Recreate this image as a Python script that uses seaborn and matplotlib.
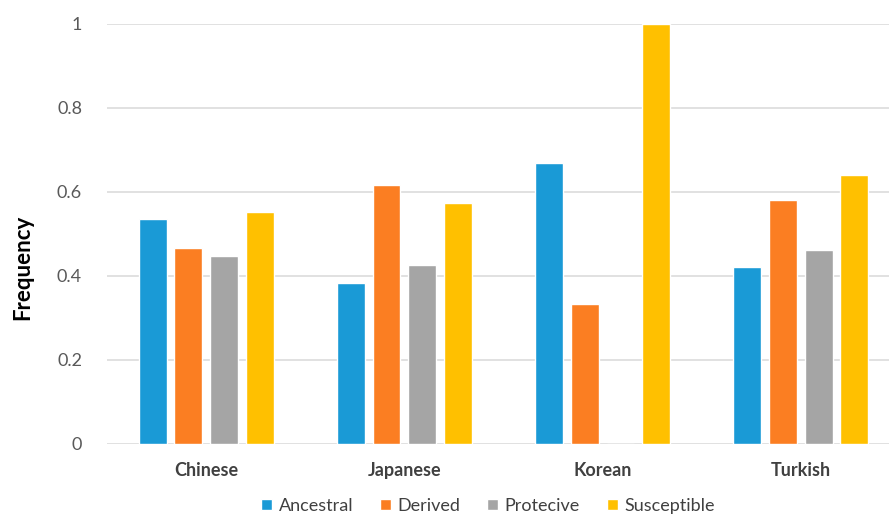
import matplotlib
matplotlib.use("Agg")
import matplotlib.pyplot as plt
import seaborn as sns
import pandas as pd

populations = ["Chinese", "Japanese", "Korean", "Turkish"]
allele_types = ["Ancestral", "Derived", "Protecive", "Susceptible"]
ancestral = [0.534, 0.382, 0.667, 0.420]
derived = [0.466, 0.615, 0.333, 0.580]
protective = [0.446, 0.426, 0.0, 0.461]
susceptible = [0.552, 0.572, 1.0, 0.640]
colors = ["#1A9AD6", "#FB7E22", "#A5A5A5", "#FFC000"]
yticks = [0, 0.2, 0.4, 0.6, 0.8, 1.0]
ytick_labels = ["0", "0.2", "0.4", "0.6", "0.8", "1"]

rows = []
for t, vals in zip(allele_types, [ancestral, derived, protective, susceptible]):
    for p, v in zip(populations, vals):
        rows.append({"Population": p, "Type": t, "Frequency": v})
df = pd.DataFrame(rows)

sns.set_theme(style="white")
plt.rcParams["font.family"] = ["Lato", "DejaVu Sans"]

fig = plt.figure(figsize=(8.89, 5.16), dpi=100)
ax = fig.add_axes([107/889, 1 - 443.5/516, (900-107)/889, (443.5-23.5)/516])

sns.barplot(data=df, x="Population", y="Frequency", hue="Type",
            hue_order=allele_types, order=populations, palette=colors,
            width=0.72, gap=0.22, saturation=1, ax=ax, legend=True)

ax.set_xlim(-0.5, 3.5)
ax.set_ylim(0, 1.0)
ax.set_yticks(yticks)
ax.set_yticklabels(ytick_labels)
ax.yaxis.grid(True, color="#D9D9D9", linewidth=1.1)
ax.set_axisbelow(True)
for s in ax.spines.values():
    s.set_visible(False)
ax.tick_params(axis="y", length=0, pad=18, labelsize=13, labelcolor="#595959")
ax.tick_params(axis="x", length=0, pad=13, labelsize=13, labelcolor="#404040")
for lbl in ax.get_xticklabels():
    lbl.set_fontweight("bold")
ax.set_xlabel("")
ax.set_ylabel("")
fig.text(23/889, 1 - 267/516, "Frequency", rotation=90, ha="center", va="center",
         fontsize=16, fontweight="bold", color="#000000")

handles, labels = ax.get_legend_handles_labels()
ax.get_legend().remove()
fig.legend(handles, labels, loc="center", bbox_to_anchor=(488/889, 1 - 506/516),
           ncol=4, frameon=False, fontsize=13, handlelength=0.6, handleheight=0.6,
           handletextpad=0.35, columnspacing=1.5, labelcolor="#404040")

fig.savefig("out.png", dpi=100)
